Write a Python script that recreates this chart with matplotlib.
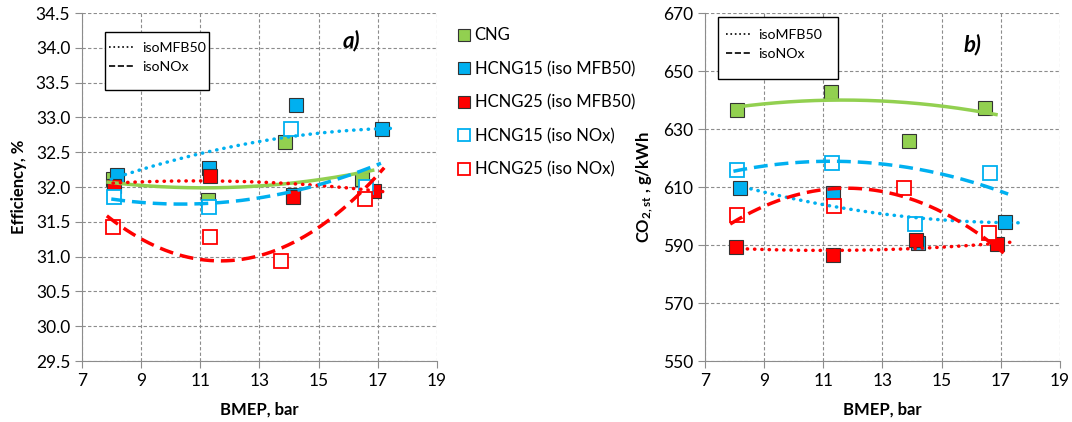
import numpy as np
import matplotlib.pyplot as plt
from matplotlib.lines import Line2D
from matplotlib.patches import Rectangle

plt.rcParams['font.family'] = ['Lato', 'DejaVu Sans']
plt.rcParams['mathtext.default'] = 'regular'

green = '#92D050'
blue = '#00B0F0'
red = '#FF0000'

# ---- a) efficiency ----
x_cng_a = [8.05, 11.26, 13.88, 16.46]
y_cng_a = [32.12, 31.82, 32.65, 32.11]
x_h15m_a = [8.18, 11.31, 14.13, 14.23, 17.15]
y_h15m_a = [32.18, 32.28, 31.88, 33.18, 32.83]
x_h25m_a = [8.07, 11.32, 14.15, 16.89]
y_h25m_a = [32.02, 32.16, 31.86, 31.94]
x_h15n_a = [8.08, 11.29, 14.08, 16.61]
y_h15n_a = [31.85, 31.72, 32.84, 32.0]
x_h25n_a = [8.06, 11.34, 13.72, 16.58]
y_h25n_a = [31.42, 31.28, 30.93, 31.83]

# trend lines
tr_cng_a = ([7.88, 11.54, 16.83], [32.07, 31.99, 32.24])
tr_h15m_a = ([7.99, 11.2, 14.0, 17.62], [32.12, 32.48, 32.74, 32.84])
tr_h25m_a = ([8.05, 10.98, 14.35, 17.4], [32.06, 32.08, 32.05, 31.92])
tr_h15n_a = ([7.99, 10.52, 14.0, 17.11], [31.83, 31.75, 31.93, 32.34])
tr_h25n_a = ([7.84, 11.54, 15.03, 17.22], [31.58, 30.96, 31.40, 32.29])

# ---- b) CO2 ----
x_cng_b = [8.09, 11.25, 13.91, 16.48]
y_cng_b = [636.5, 642.7, 625.9, 637.4]
x_h15m_b = [8.18, 11.34, 14.21, 17.16]
y_h15m_b = [609.5, 607.8, 590.8, 597.8]
x_h25m_b = [8.05, 11.34, 14.15, 16.86]
y_h25m_b = [589.2, 586.7, 591.7, 590.5]
x_h15n_b = [8.09, 11.28, 14.1, 16.63]
y_h15n_b = [615.8, 618.4, 597.4, 615.0]
x_h25n_b = [8.07, 11.36, 13.74, 16.59]
y_h25n_b = [600.3, 603.4, 609.8, 594.3]

tr_cng_b = ([8.07, 12.35, 16.84], [637.6, 639.9, 635.0])
tr_h15m_b = ([8.07, 11.45, 14.38, 17.59], [610.6, 603.2, 599.1, 597.7])
tr_h25m_b = ([8.18, 11.45, 14.6, 17.54], [588.8, 588.0, 589.2, 591.1])
tr_h15n_b = ([7.96, 10.77, 14.6, 17.25], [615.6, 618.4, 615.8, 607.4])
tr_h25n_b = ([7.85, 11.23, 13.48, 17.1], [597.2, 609.5, 607.2, 587.3])

labels = ['CNG', 'HCNG15 (iso MFB50)', 'HCNG25 (iso MFB50)',
          'HCNG15 (iso NOx)', 'HCNG25 (iso NOx)']

dot = (0, (0.1, 2.0))
dash = (0, (4, 2))


def trend(ax, tr, color, ls):
    c = np.polyfit(tr[0], tr[1], 2)
    xx = np.linspace(tr[0][0], tr[0][-1], 200)
    ax.plot(xx, np.polyval(c, xx), color=color, ls=ls, lw=2.5,
            dash_capstyle='round' if ls == dot else 'butt', zorder=4)


def scatter(ax, x, y, color, filled):
    if filled:
        ax.plot(x, y, 's', ms=9.5, mfc=color, mec='#333333', mew=0.8, zorder=3)
    else:
        ax.plot(x, y, 's', ms=9.5, mfc='white', mec=color, mew=1.3, zorder=3)


def style(ax, ylim, yticks, fmt):
    ax.set_xlim(7, 19)
    ax.set_ylim(*ylim)
    ax.set_xticks(range(7, 20, 2))
    ax.set_yticks(yticks)
    ax.set_yticklabels([fmt.format(v) for v in yticks])
    ax.grid(True, color='#8c8c8c', ls=(0, (3, 2)), lw=0.8)
    ax.set_axisbelow(True)
    for s in ['top', 'right']:
        ax.spines[s].set_visible(False)
    for s in ['left', 'bottom']:
        ax.spines[s].set_color('#8c8c8c')
    ax.tick_params(direction='out', length=5, color='#8c8c8c', labelsize=12.5)
    ax.set_xlabel('BMEP, bar', fontsize=12, fontweight='bold', labelpad=9)


def inner_legend(ax, x0, x1, y0, y1, pad):
    # box drawn by hand, Excel-like size
    ax.add_patch(Rectangle((x0, y0), x1 - x0, y1 - y0, transform=ax.transAxes,
                           facecolor='white', edgecolor='black', lw=1.0,
                           zorder=6))
    h = [Line2D([], [], color='black', ls=':', lw=1.2),
         Line2D([], [], color='black', ls='--', lw=1.2)]
    leg = ax.legend(h, ['isoMFB50', 'isoNOx'], loc='center left',
                    bbox_to_anchor=(x0 + pad, (y0 + y1) / 2 + 0.01),
                    fontsize=10.2, frameon=False, borderaxespad=0,
                    handlelength=1.8, handletextpad=0.5, borderpad=0,
                    labelspacing=0.5)
    leg.set_zorder(7)


fig = plt.figure(figsize=(10.72, 4.22), dpi=100)
ax1 = fig.add_axes([0.0765, 0.1445, 0.331, 0.8246])
ax2 = fig.add_axes([0.6577, 0.1445, 0.331, 0.8246])

scatter(ax1, x_cng_a, y_cng_a, green, True)
scatter(ax1, x_h15m_a, y_h15m_a, blue, True)
scatter(ax1, x_h25m_a, y_h25m_a, red, True)
scatter(ax1, x_h15n_a, y_h15n_a, blue, False)
scatter(ax1, x_h25n_a, y_h25n_a, red, False)
trend(ax1, tr_cng_a, green, '-')
trend(ax1, tr_h15m_a, blue, dot)
trend(ax1, tr_h25m_a, red, dot)
trend(ax1, tr_h15n_a, blue, dash)
trend(ax1, tr_h25n_a, red, dash)
style(ax1, (29.5, 34.5), np.arange(29.5, 34.51, 0.5), '{:.1f}')
ax1.set_ylabel('Efficiency, %', fontsize=12, fontweight='bold', labelpad=6)
ax1.text(0.76, 0.92, 'a)', transform=ax1.transAxes, fontsize=16,
         fontweight='bold', style='italic', ha='center', va='center')
inner_legend(ax1, 0.0648, 0.358, 0.779, 0.945, 0.012)

scatter(ax2, x_cng_b, y_cng_b, green, True)
scatter(ax2, x_h15m_b, y_h15m_b, blue, True)
scatter(ax2, x_h25m_b, y_h25m_b, red, True)
scatter(ax2, x_h15n_b, y_h15n_b, blue, False)
scatter(ax2, x_h25n_b, y_h25n_b, red, False)
trend(ax2, tr_cng_b, green, '-')
trend(ax2, tr_h15m_b, blue, dot)
trend(ax2, tr_h25m_b, red, dot)
trend(ax2, tr_h15n_b, blue, dash)
trend(ax2, tr_h25n_b, red, dash)
style(ax2, (550, 670), np.arange(550, 671, 20), '{:.0f}')
ax2.set_ylabel('CO$_{2,st}$ , g/kWh', fontsize=12, fontweight='bold', labelpad=6)
ax2.text(0.755, 0.91, 'b)', transform=ax2.transAxes, fontsize=16,
         fontweight='bold', style='italic', ha='center', va='center')
inner_legend(ax2, 0.0366, 0.3746, 0.810, 0.9885, 0.022)

# shared legend between the panels
hs = [Line2D([], [], ls='', marker='s', ms=8.2, mfc=green, mec='#333333', mew=0.8),
      Line2D([], [], ls='', marker='s', ms=8.2, mfc=blue, mec='#333333', mew=0.8),
      Line2D([], [], ls='', marker='s', ms=8.2, mfc=red, mec='#333333', mew=0.8),
      Line2D([], [], ls='', marker='s', ms=8.2, mfc='white', mec=blue, mew=1.3),
      Line2D([], [], ls='', marker='s', ms=8.2, mfc='white', mec=red, mew=1.3)]
fig.legend(hs, labels, loc='upper left', bbox_to_anchor=(0.421, 0.951),
           frameon=False, fontsize=12, handlelength=0.7, handletextpad=0.3,
           labelspacing=1.05, borderaxespad=0)

fig.savefig('out.png', dpi=100)
